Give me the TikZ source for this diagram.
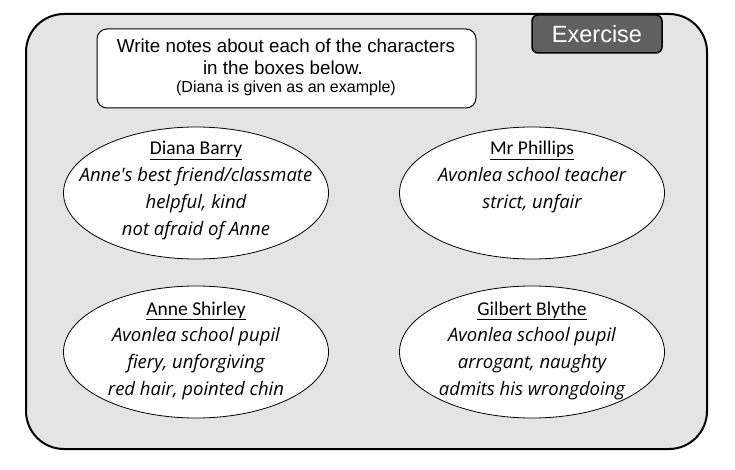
\documentclass[tikz,border=0pt]{standalone}
\usepackage{fontspec}
\setmainfont{Liberation Sans}
\newfontfamily\namefont{Carlito}
\newfontfamily\handfont{Open Sans}
\usetikzlibrary{positioning,shapes.geometric}
\definecolor{framegray}{RGB}{228,228,228}
\definecolor{tabgray}{RGB}{96,96,96}
\tikzset{
	charbox/.style={ellipse, draw=black, line width=0.8pt, fill=white,
		minimum width=265, minimum height=132, inner sep=0pt},
	charname/.style={anchor=base, inner sep=0pt,
		font=\namefont\fontsize{19.5}{23}\selectfont},
	charnote/.style={anchor=base, inner sep=0pt,
		font=\handfont\itshape\fontsize{18.5}{22}\selectfont}
}
\begin{document}
\begin{tikzpicture}[x=1pt, y=-1pt]
	\useasboundingbox (0,0) rectangle (735,470);
	% Rahmen
	\filldraw[line width=2pt, draw=black, fill=framegray, rounded corners=38pt]
	(26,14) rectangle (707,449);
	\filldraw[line width=1.5pt, draw=black, fill=tabgray, rounded corners=6pt]
	(532,15) rectangle (662,53);
	\node[text=white, font=\fontsize{23.5}{26}\selectfont] (exercise) at (597,34)
	{Exercise};

	% Aufgabe
	\filldraw[line width=1pt, draw=black, fill=white, rounded corners=10pt]
	(97,29) rectangle (476,108);
	\node[anchor=base, font=\fontsize{18.8}{22}\selectfont] (task1) at (286,53)
	{Write notes about each of the characters};
	\node[anchor=base, font=\fontsize{18.8}{22}\selectfont] (task2) at (283,75)
	{in the boxes below.};
	\node[anchor=base, font=\fontsize{16}{19}\selectfont] (task3) at (286,93)
	{(Diana is given as an example)};

	% Figuren
	\node[charbox] (diana) at (196,193) {};
	\node[charbox] (phillips) at (532,193) {};
	\node[charbox] (anne) at (196,352) {};
	\node[charbox] (gilbert) at (532,352) {};

	\node[charname] (dianaName) at ([yshift=38pt]diana.center)
	{\underline{Diana Barry}};
	\foreach \txt [count=\i] in {Anne's best friend/classmate, {helpful, kind},
		not afraid of Anne}
		\node[charnote] (dianaNote\i) at ([yshift={(11-27*(\i-1))*1pt}]diana.center)
		{\txt};

	\node[charname] (phillipsName) at ([yshift=38pt]phillips.center)
	{\underline{Mr Phillips}};
	\foreach \txt [count=\i] in {Avonlea school teacher, {strict, unfair}}
		\node[charnote] (phillipsNote\i) at ([yshift={(11-27*(\i-1))*1pt}]phillips.center)
		{\txt};

	\node[charname] (anneName) at ([yshift=37pt]anne.center)
	{\underline{Anne Shirley}};
	\foreach \txt [count=\i] in {Avonlea school pupil, {fiery, unforgiving},
		{red hair, pointed chin}}
		\node[charnote] (anneNote\i) at ([yshift={(11-27*(\i-1))*1pt}]anne.center)
		{\txt};

	\node[charname] (gilbertName) at ([yshift=37pt]gilbert.center)
	{\underline{Gilbert Blythe}};
	\foreach \txt [count=\i] in {Avonlea school pupil, {arrogant, naughty},
		admits his wrongdoing}
		\node[charnote] (gilbertNote\i) at ([yshift={(11-27*(\i-1))*1pt}]gilbert.center)
		{\txt};
\end{tikzpicture}
\end{document}
